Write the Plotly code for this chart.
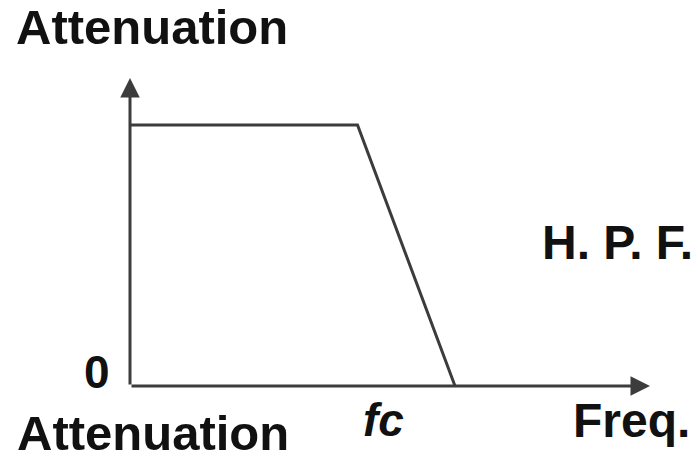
import plotly.graph_objects as go

# Data: normalized frequency vs attenuation (H.P.F. sketch)
freq = [0.0, 0.70, 1.0]
attenuation = [1.0, 1.0, 0.0]

axis_x_end = 1.6
axis_y_end = 1.18

W, H = 700, 459
LINE = "#3c3c3c"
FONT = "Liberation Sans, Arial, sans-serif"

fig = go.Figure()
fig.add_trace(go.Scatter(x=freq, y=attenuation, mode="lines",
                         line=dict(color=LINE, width=3), hoverinfo="skip",
                         showlegend=False))

# axes as arrows
fig.add_annotation(x=axis_x_end, y=0, ax=0, ay=0, xref="x", yref="y",
                   axref="x", ayref="y", text="", showarrow=True,
                   arrowhead=2, arrowsize=1.3, arrowwidth=3, arrowcolor=LINE)
fig.add_annotation(x=0, y=axis_y_end, ax=0, ay=0, xref="x", yref="y",
                   axref="x", ayref="y", text="", showarrow=True,
                   arrowhead=2, arrowsize=1.3, arrowwidth=3, arrowcolor=LINE)

def label(text, px, py, size, italic=False):
    t = f"<b>{text}</b>"
    if italic:
        t = f"<i>{t}</i>"
    fig.add_annotation(x=px / W, y=1 - py / H, xref="paper", yref="paper",
                       text=t, showarrow=False, xanchor="center",
                       yanchor="middle", borderpad=0,
                       font=dict(family=FONT, size=size, color="#111111"))

label("Attenuation", 152, 27, 49)
label("Attenuation", 153, 433, 49)
label("0", 97, 372, 46)
label("H. P. F.", 617, 242, 48)
label("fc", 383, 420, 46, italic=True)
label("Freq.", 631, 420, 48)

fig.update_layout(
    width=W, height=H,
    margin=dict(l=0, r=0, t=0, b=0),
    paper_bgcolor="white", plot_bgcolor="white",
    xaxis=dict(range=[-0.4, 1.7538], visible=False, fixedrange=True),
    yaxis=dict(range=[-0.2797, 1.479], visible=False, fixedrange=True),
)

fig.write_html("out.html", config={"displayModeBar": False},
               post_script="document.body.style.margin='0';document.body.style.overflow='hidden';")
